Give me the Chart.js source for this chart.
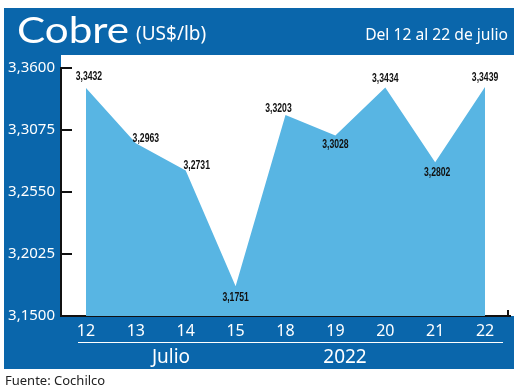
<!DOCTYPE html>
<html>
<head>
<meta charset="utf-8">
<script src="https://cdn.jsdelivr.net/npm/chart.js@4"></script>
<style>
    html, body { margin: 0; padding: 0; background: #fff; }
    #wrap { width: 520px; height: 391px; position: relative; }
</style>
</head>
<body>
<div id="wrap"><canvas id="chart"></canvas></div>
<script>
const days = ['12', '13', '14', '15', '18', '19', '20', '21', '22'];
const prices = [3.3432, 3.2963, 3.2731, 3.1751, 3.3203, 3.3028, 3.3434, 3.2802, 3.3439];
const yMin = 3.15;
const yMax = 3.36;
const yStep = 0.0525;

// label offsets per point (above / below), not data
const labelDx = [3, 10, 11, 0, -7, 0, 0, 2, 0];
const labelDy = [-11, -5, -5, 11, -6, 9, -9, 10, -9];

const BLUE = '#0a66ab';
const FILL = '#58b5e3';

function fmt(v) {
    return v.toFixed(4).replace('.', ',');
}

// draw text squeezed or stretched horizontally
function textX(ctx, s, x, y, sx) {
    ctx.save();
    ctx.translate(x, y);
    ctx.scale(sx, 1);
    ctx.fillText(s, 0, 0);
    ctx.restore();
}

const frame = {
    id: 'frame',
    beforeDraw(chart) {
        const ctx = chart.ctx;
        const a = chart.chartArea;
        ctx.save();
        ctx.fillStyle = '#fff';
        ctx.fillRect(0, 0, chart.width, chart.height);
        ctx.fillStyle = BLUE;
        ctx.fillRect(4, 8, 510, 361);
        ctx.fillStyle = '#fff';
        ctx.fillRect(a.left, 55, chart.width - a.left, a.bottom - 55);
        ctx.restore();
    },
    afterDraw(chart) {
        const ctx = chart.ctx;
        const a = chart.chartArea;
        const y = chart.scales.y;
        ctx.save();
        // inward y ticks
        ctx.strokeStyle = '#111';
        ctx.lineWidth = 2;
        y.ticks.forEach(t => {
            const py = y.getPixelForValue(t.value);
            ctx.beginPath();
            ctx.moveTo(a.left, py);
            ctx.lineTo(a.left + 11, py);
            ctx.stroke();
        });
        ctx.beginPath();
        ctx.moveTo(a.right - 2, a.bottom);
        ctx.lineTo(a.right - 2, a.bottom - 6);
        ctx.stroke();

        // value labels
        const meta = chart.getDatasetMeta(0);
        ctx.fillStyle = '#111';
        ctx.font = 'bold 12px "Liberation Sans", sans-serif';
        ctx.textAlign = 'center';
        ctx.textBaseline = 'middle';
        meta.data.forEach((pt, i) => {
            textX(ctx, fmt(prices[i]), pt.x + labelDx[i], pt.y + labelDy[i], 0.72);
        });

        // header
        ctx.fillStyle = '#fff';
        ctx.textBaseline = 'alphabetic';
        ctx.textAlign = 'left';
        ctx.font = '37px "Lato", sans-serif';
        textX(ctx, 'Cobre', 17, 43, 1.14);
        ctx.font = '19px "Noto Sans", sans-serif';
        ctx.fillText('(US$/lb)', 136, 40);
        ctx.textAlign = 'right';
        ctx.font = '17px "Noto Sans", sans-serif';
        textX(ctx, 'Del 12 al 22 de julio', 508, 40, 0.92);

        // bottom band
        ctx.strokeStyle = '#fff';
        ctx.lineWidth = 1;
        ctx.beginPath();
        ctx.moveTo(78, 342.5);
        ctx.lineTo(503, 342.5);
        ctx.stroke();
        ctx.textAlign = 'center';
        ctx.font = '19px "Noto Sans", sans-serif';
        ctx.fillText('Julio', 171, 363);
        ctx.fillText('2022', 345, 363);

        // source
        ctx.textAlign = 'left';
        ctx.fillStyle = '#222';
        ctx.font = '13px "Noto Sans", sans-serif';
        ctx.fillText('Fuente: Cochilco', 5, 385);
        ctx.restore();
    }
};

new Chart(document.getElementById('chart'), {
    type: 'line',
    data: {
        labels: days,
        datasets: [{
            data: prices,
            fill: 'start',
            backgroundColor: FILL,
            borderColor: FILL,
            borderWidth: 0,
            pointRadius: 0,
            tension: 0
        }]
    },
    options: {
        responsive: true,
        maintainAspectRatio: false,
        animation: false,
        layout: { padding: { top: 68, right: 10, left: 0, bottom: 0 } },
        plugins: { legend: { display: false }, tooltip: { enabled: false } },
        scales: {
            x: {
                offset: true,
                grid: { display: false, drawTicks: false },
                border: { display: true, color: '#111', width: 2 },
                ticks: { color: '#fff', padding: 6, font: { family: 'Noto Sans', size: 16 } },
                afterFit(scale) { scale.height = 75; }
            },
            y: {
                min: yMin,
                max: yMax,
                grid: { display: false, drawTicks: false },
                border: { display: true, color: '#111', width: 2 },
                ticks: {
                    stepSize: yStep,
                    color: '#fff',
                    padding: 6,
                    font: { family: 'Noto Sans', size: 15 },
                    callback: v => fmt(v)
                },
                afterFit(scale) { scale.width = 61; }
            }
        }
    },
    plugins: [frame]
});
</script>
</body>
</html>
